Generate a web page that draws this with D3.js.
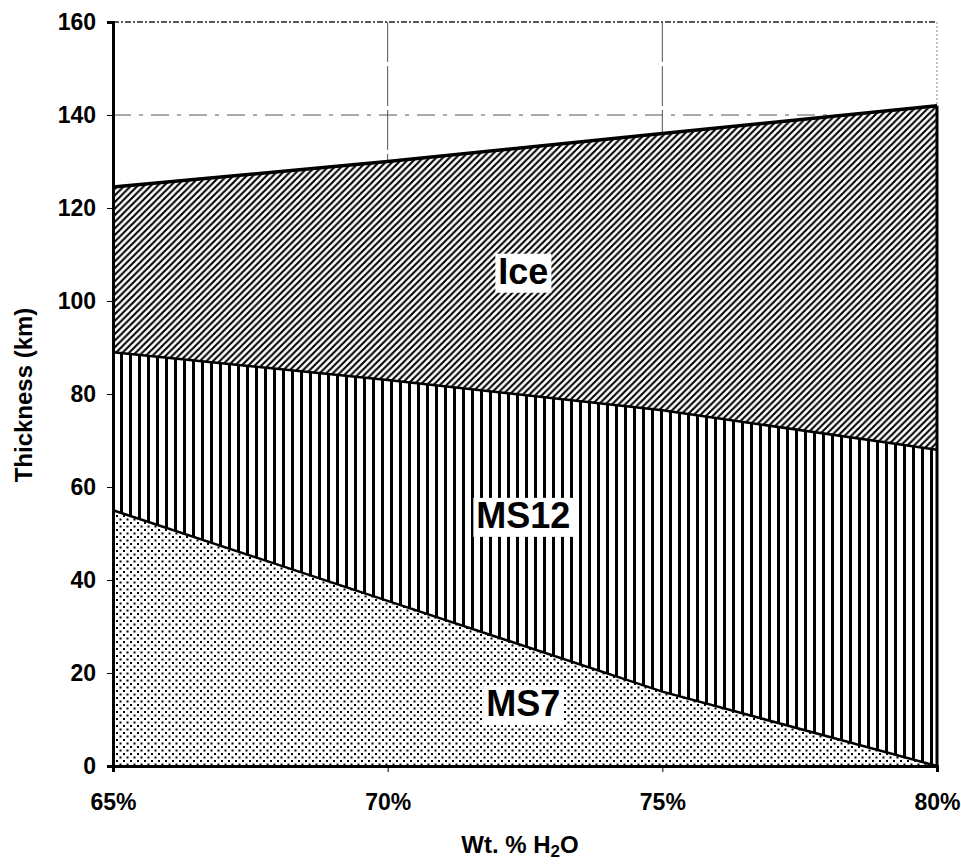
<!DOCTYPE html>
<meta charset="utf-8">
<style>
  body { margin: 0; background: #fff; }
  text { font-family: "Liberation Sans", Arial, sans-serif; font-weight: bold; fill: #000; }
  .axis path, .axis line { stroke: #000; }
</style>
<svg width="961" height="864"></svg>
<script src="https://cdnjs.cloudflare.com/ajax/libs/d3/7.8.5/d3.min.js"></script>
<script>
  // water content (fraction) and cumulative layer tops (km)
  var water = [0.65, 0.70, 0.75, 0.80];
  var ms7Top = [55, 35.5, 16, 0];
  var ms12Top = [89, 83, 76.5, 68];
  var iceTop = [124.5, 130, 136, 142];
  var yTicks = [0, 20, 40, 60, 80, 100, 120, 140, 160];
  var xTicks = [0.65, 0.70, 0.75, 0.80];
  var layerNames = ["MS7", "MS12", "Ice"];

  var svg = d3.select("svg");
  var x = d3.scaleLinear().domain([0.65, 0.80]).range([113, 937]);
  var y = d3.scaleLinear().domain([0, 160]).range([766, 22]);

  var defs = svg.append("defs");
  // diagonal hatch
  var p1 = defs.append("pattern").attr("id", "hatch").attr("patternUnits", "userSpaceOnUse")
    .attr("width", 6.6).attr("height", 6.6);
  p1.append("rect").attr("width", 6.6).attr("height", 6.6).attr("fill", "#fff");
  p1.append("path").attr("d", "M-1.65,1.65 L1.65,-1.65 M0,6.6 L6.6,0 M4.95,8.25 L8.25,4.95")
    .attr("stroke", "#000").attr("stroke-width", 2.1);
  // vertical stripes
  var p2 = defs.append("pattern").attr("id", "vstripe").attr("patternUnits", "userSpaceOnUse")
    .attr("width", 9).attr("height", 10);
  p2.append("rect").attr("width", 9).attr("height", 10).attr("fill", "#fff");
  p2.append("rect").attr("x", 3).attr("width", 3).attr("height", 10).attr("fill", "#000");
  // dots
  var p3 = defs.append("pattern").attr("id", "dots").attr("patternUnits", "userSpaceOnUse")
    .attr("width", 7).attr("height", 7);
  p3.append("rect").attr("width", 7).attr("height", 7).attr("fill", "#fff");
  p3.append("rect").attr("x", 0.5).attr("y", 0.5).attr("width", 2).attr("height", 2).attr("fill", "#000");
  p3.append("rect").attr("x", 4).attr("y", 4).attr("width", 2).attr("height", 2).attr("fill", "#000");

  // grid
  svg.append("line").attr("x1", x(0.65)).attr("x2", x(0.80)).attr("y1", y(160)).attr("y2", y(160))
    .attr("stroke", "#222").attr("stroke-width", 1.5).attr("stroke-dasharray", "6,2,2,2");
  svg.append("line").attr("x1", x(0.65)).attr("x2", x(0.80)).attr("y1", y(140)).attr("y2", y(140))
    .attr("stroke", "#555").attr("stroke-width", 1).attr("stroke-dasharray", "18,8,4,8");
  [0.70, 0.75].forEach(function(v) {
    svg.append("line").attr("x1", x(v)).attr("x2", x(v)).attr("y1", y(160)).attr("y2", y(0))
      .attr("stroke", "#555").attr("stroke-width", 1).attr("stroke-dasharray", "40,4");
  });
  svg.append("line").attr("x1", x(0.80)).attr("x2", x(0.80)).attr("y1", y(160)).attr("y2", y(140))
    .attr("stroke", "#888").attr("stroke-width", 1).attr("stroke-dasharray", "2,2");

  var tops = [ms7Top, ms12Top, iceTop];
  var fills = ["url(#dots)", "url(#vstripe)", "url(#hatch)"];
  var layers = tops.map(function(t, i) {
    return water.map(function(w, j) {
      return { w: w, lo: i === 0 ? 0 : tops[i - 1][j], hi: t[j] };
    });
  });

  var area = d3.area().x(function(d) { return x(d.w); })
    .y0(function(d) { return y(d.lo); }).y1(function(d) { return y(d.hi); });
  var line = d3.line().x(function(d) { return x(d.w); }).y(function(d) { return y(d.hi); });

  svg.selectAll(".layer").data(layers).enter().append("path")
    .attr("class", "layer").attr("d", area).attr("fill", function(d, i) { return fills[i]; });
  svg.selectAll(".edge").data(layers).enter().append("path")
    .attr("class", "edge").attr("d", line).attr("fill", "none")
    .attr("stroke", "#000").attr("stroke-width", function(d, i) { return i === 2 ? 3.5 : 2.5; });

  // right edge of filled region
  svg.append("line").attr("x1", x(0.80)).attr("x2", x(0.80))
    .attr("y1", y(iceTop[iceTop.length - 1])).attr("y2", y(0))
    .attr("stroke", "#000").attr("stroke-width", 3);

  // axes
  svg.append("g").attr("class", "axis").attr("transform", "translate(" + x(0.65) + ",0)")
    .call(d3.axisLeft(y).tickValues(yTicks).tickSize(6).tickPadding(11).tickFormat(d3.format("d")))
    .call(function(g) {
      g.select(".domain").attr("stroke-width", 3);
      g.selectAll("text").style("font-size", "23px");
    });
  svg.append("g").attr("class", "axis").attr("transform", "translate(0," + y(0) + ")")
    .call(d3.axisBottom(x).tickValues(xTicks).tickSize(6).tickPadding(22).tickFormat(d3.format(".0%")))
    .call(function(g) {
      g.select(".domain").attr("stroke-width", 3);
      g.selectAll("text").style("font-size", "23px");
    });

  // titles
  var xt = svg.append("text").attr("x", 520).attr("y", 853).attr("text-anchor", "middle")
    .style("font-size", "24px");
  xt.append("tspan").text("Wt. % H");
  xt.append("tspan").attr("dy", 4).style("font-size", "17px").text("2");
  xt.append("tspan").attr("dy", -4).text("O");

  svg.append("text").attr("transform", "translate(32,395) rotate(-90)")
    .attr("text-anchor", "middle").style("font-size", "24px").text("Thickness (km)");

  // layer labels with white boxes
  var labelPos = [{ w: 0.7247, v: 13.5 }, { w: 0.7247, v: 54 }, { w: 0.7247, v: 106.5 }];
  layerNames.forEach(function(n, i) {
    var g = svg.append("g");
    var t = g.append("text").attr("x", x(labelPos[i].w)).attr("y", y(labelPos[i].v))
      .attr("text-anchor", "middle").attr("dy", "0.36em").style("font-size", "36px").text(n);
    var b = t.node().getBBox();
    g.insert("rect", "text").attr("x", b.x - 3).attr("y", b.y + 3).attr("width", b.width + 6)
      .attr("height", b.height - 2).attr("fill", "#fff");
  });
</script>
